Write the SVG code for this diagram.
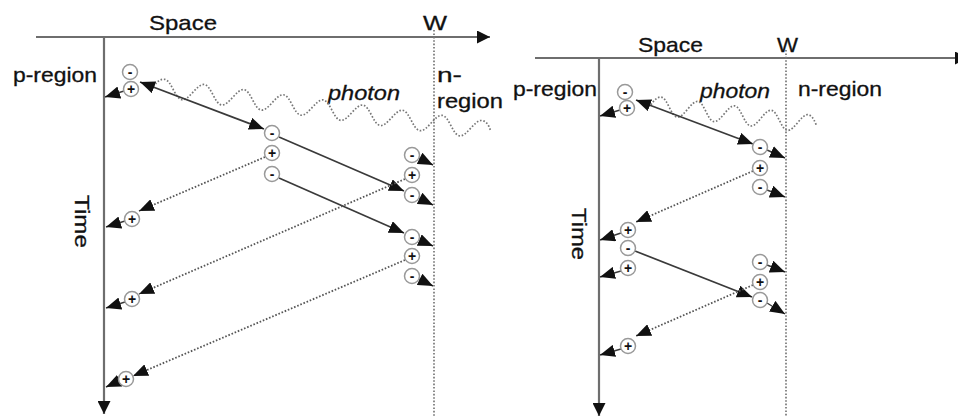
<svg xmlns="http://www.w3.org/2000/svg" width="958" height="417" viewBox="0 0 958 417">
<style>
.lbl{font-family:"Liberation Sans",Arial,sans-serif;font-size:21px;fill:#111;stroke:#111;stroke-width:0.3}
.it{font-style:italic}
.sg{font-family:"Liberation Sans",Arial,sans-serif;font-size:14px;font-weight:bold;fill:#111;text-anchor:middle}
.pc{fill:#fff;stroke:#999;stroke-width:1.5}
.axis{stroke:#6e6e6e;stroke-width:2.2;fill:none}
.wline{stroke:#777;stroke-width:1.7;stroke-dasharray:1.6,1.8;fill:none}
.sol{stroke:#3a3a3a;stroke-width:1.7;fill:none;marker-end:url(#ah)}
.dot{stroke:#555;stroke-width:1.8;stroke-dasharray:1.6,1.8;fill:none;marker-end:url(#ah)}
.sh{stroke:#3a3a3a;stroke-width:1.4;fill:none;marker-end:url(#ah)}
.wave{stroke:#777;stroke-width:1.7;stroke-dasharray:1.6,1.8;fill:none}
</style>
<defs>
<marker id="ah" viewBox="0 0 12 10" refX="12" refY="5" markerWidth="15" markerHeight="12.5" markerUnits="userSpaceOnUse" orient="auto-start-reverse"><path d="M0,0 L12,5 L0,10 z" fill="#111"/></marker>
<marker id="axh" viewBox="0 0 10 10" refX="10" refY="5" markerWidth="13" markerHeight="13" markerUnits="userSpaceOnUse" orient="auto"><path d="M0,0 L10,5 L0,10 z" fill="#111"/></marker>
</defs>

<g id="axes">
<line class="axis" x1="36" y1="37" x2="490" y2="37" marker-end="url(#axh)"/>
<line class="axis" x1="104" y1="37" x2="104" y2="414" marker-end="url(#axh)"/>
<line class="wline" x1="434" y1="30" x2="434" y2="417"/>
<line class="axis" x1="535" y1="58" x2="968" y2="58" marker-end="url(#axh)"/>
<line class="axis" x1="599" y1="58" x2="599" y2="416" marker-end="url(#axh)"/>
<line class="wline" x1="786" y1="50" x2="786" y2="417"/>
</g>

<g id="labels">
<g id="l-space"><text class="lbl" x="149" y="30" textLength="68" lengthAdjust="spacingAndGlyphs">Space</text></g>
<g id="l-w"><text class="lbl" x="423" y="30" textLength="24" lengthAdjust="spacingAndGlyphs">W</text></g>
<g id="l-preg"><text class="lbl" x="13" y="82" textLength="84" lengthAdjust="spacingAndGlyphs">p-region</text></g>
<g id="l-nreg"><text class="lbl" x="437" y="82" textLength="25" lengthAdjust="spacingAndGlyphs">n-</text><text class="lbl" x="437" y="108" textLength="66" lengthAdjust="spacingAndGlyphs">region</text></g>
<g id="l-photon"><text class="lbl it" x="328" y="100" textLength="72" lengthAdjust="spacingAndGlyphs">photon</text></g>
<g id="l-time"><text class="lbl" transform="translate(75,195) rotate(90)" textLength="53" lengthAdjust="spacingAndGlyphs">Time</text></g>
<g id="r-space"><text class="lbl" x="638" y="52" textLength="65" lengthAdjust="spacingAndGlyphs">Space</text></g>
<g id="r-w"><text class="lbl" x="777" y="52" textLength="21" lengthAdjust="spacingAndGlyphs">W</text></g>
<g id="r-preg"><text class="lbl" x="513" y="96" textLength="84" lengthAdjust="spacingAndGlyphs">p-region</text></g>
<g id="r-nreg"><text class="lbl" x="798" y="96" textLength="84" lengthAdjust="spacingAndGlyphs">n-region</text></g>
<g id="r-photon"><text class="lbl it" x="700" y="98" textLength="70" lengthAdjust="spacingAndGlyphs">photon</text></g>
<g id="r-time"><text class="lbl" transform="translate(572,208) rotate(90)" textLength="52" lengthAdjust="spacingAndGlyphs">Time</text></g>
</g>

<g id="connectors">
<path class="wave" transform="translate(203,93.4) rotate(7.4)" d="M -50,0 Q -46,-9 -40,-9 C -32.73,-9 -27.27,9 -20,9 S -7.27,-9 0,-9 S 12.73,9 20,9 S 32.73,-9 40,-9 S 52.73,9 60,9 S 72.73,-9 80,-9 S 92.73,9 100,9 S 112.73,-9 120,-9 S 132.73,9 140,9 S 152.73,-9 160,-9 S 172.73,9 180,9 S 192.73,-9 200,-9 S 212.73,9 220,9 S 232.73,-9 240,-9 S 252.73,9 260,9 S 272.73,-9 280,-9 Q 286,-9 290,0"/>
<path class="wave" transform="translate(660,106) rotate(6.84)" d="M -9.25,0 Q -4.5,-9 0,-9 C 6.72,-9 11.78,9 18.5,9 S 30.28,-9 37,-9 S 48.78,9 55.5,9 S 67.28,-9 74,-9 S 85.78,9 92.5,9 S 104.28,-9 111,-9 S 122.78,9 129.5,9 S 141.28,-9 148,-9 Q 152.5,-9 157.25,0"/>

<line class="sol" x1="140" y1="82" x2="264" y2="129" marker-start="url(#ah)"/>
<line class="sol" x1="279" y1="137" x2="404" y2="191"/>
<line class="sol" x1="279" y1="178" x2="404" y2="233"/>
<line class="dot" x1="265" y1="157" x2="139" y2="211"/>
<line class="dot" x1="405" y1="179" x2="139" y2="294"/>
<line class="dot" x1="405" y1="260" x2="133" y2="376"/>
<line class="sh" x1="124" y1="91" x2="105" y2="97"/>
<line class="sh" x1="125" y1="221" x2="106" y2="227"/>
<line class="sh" x1="125" y1="302" x2="106" y2="308"/>
<line class="sh" x1="119" y1="381" x2="106" y2="387"/>
<line class="sh" x1="419" y1="158" x2="433" y2="165"/>
<line class="sh" x1="419" y1="198" x2="433" y2="205"/>
<line class="sh" x1="419" y1="240" x2="433" y2="246"/>
<line class="sh" x1="419" y1="279" x2="433" y2="286"/>

<line class="sol" x1="636" y1="100" x2="753" y2="144" marker-start="url(#ah)"/>
<line class="dot" x1="753" y1="171" x2="636" y2="222"/>
<line class="sol" x1="635" y1="251" x2="752" y2="297"/>
<line class="dot" x1="753" y1="285" x2="636" y2="336"/>
<line class="sh" x1="620" y1="110" x2="600" y2="116"/>
<line class="sh" x1="621" y1="233" x2="600" y2="240"/>
<line class="sh" x1="621" y1="271" x2="600" y2="277"/>
<line class="sh" x1="621" y1="349" x2="600" y2="355"/>
<line class="sh" x1="767" y1="150" x2="785" y2="158"/>
<line class="sh" x1="767" y1="190" x2="785" y2="197"/>
<line class="sh" x1="767" y1="265" x2="785" y2="272"/>
<line class="sh" x1="767" y1="303" x2="785" y2="314"/>
</g>

<g id="particles">
<g id="a1"><circle class="pc" cx="130" cy="72" r="7.5"/><text class="sg" x="130" y="76.5">-</text></g>
<g id="a2"><circle class="pc" cx="131" cy="89" r="7.5"/><text class="sg" x="131" y="94">+</text></g>
<g id="a3"><circle class="pc" cx="272" cy="133" r="7.5"/><text class="sg" x="272" y="137.5">-</text></g>
<g id="a4"><circle class="pc" cx="272" cy="153" r="7.5"/><text class="sg" x="272" y="158">+</text></g>
<g id="a5"><circle class="pc" cx="272" cy="174" r="7.5"/><text class="sg" x="272" y="178.5">-</text></g>
<g id="a6"><circle class="pc" cx="412" cy="155" r="7.5"/><text class="sg" x="412" y="159.5">-</text></g>
<g id="a7"><circle class="pc" cx="412" cy="175" r="7.5"/><text class="sg" x="412" y="180">+</text></g>
<g id="a8"><circle class="pc" cx="412" cy="195" r="7.5"/><text class="sg" x="412" y="199.5">-</text></g>
<g id="a9"><circle class="pc" cx="412" cy="237" r="7.5"/><text class="sg" x="412" y="241.5">-</text></g>
<g id="a10"><circle class="pc" cx="412" cy="256" r="7.5"/><text class="sg" x="412" y="261">+</text></g>
<g id="a11"><circle class="pc" cx="412" cy="276" r="7.5"/><text class="sg" x="412" y="280.5">-</text></g>
<g id="a12"><circle class="pc" cx="132" cy="219" r="7.5"/><text class="sg" x="132" y="224">+</text></g>
<g id="a13"><circle class="pc" cx="132" cy="299" r="7.5"/><text class="sg" x="132" y="304">+</text></g>
<g id="a14"><circle class="pc" cx="126" cy="379" r="7.5"/><text class="sg" x="126" y="384">+</text></g>

<g id="b1"><circle class="pc" cx="625" cy="92" r="7.5"/><text class="sg" x="625" y="96.5">-</text></g>
<g id="b2"><circle class="pc" cx="627" cy="108" r="7.5"/><text class="sg" x="627" y="113">+</text></g>
<g id="b3"><circle class="pc" cx="760" cy="147" r="7.5"/><text class="sg" x="760" y="151.5">-</text></g>
<g id="b4"><circle class="pc" cx="760" cy="168" r="7.5"/><text class="sg" x="760" y="173">+</text></g>
<g id="b5"><circle class="pc" cx="760" cy="187" r="7.5"/><text class="sg" x="760" y="191.5">-</text></g>
<g id="b6"><circle class="pc" cx="628" cy="230" r="7.5"/><text class="sg" x="628" y="235">+</text></g>
<g id="b7"><circle class="pc" cx="628" cy="248" r="7.5"/><text class="sg" x="628" y="252.5">-</text></g>
<g id="b8"><circle class="pc" cx="628" cy="268" r="7.5"/><text class="sg" x="628" y="273">+</text></g>
<g id="b9"><circle class="pc" cx="760" cy="262" r="7.5"/><text class="sg" x="760" y="266.5">-</text></g>
<g id="b10"><circle class="pc" cx="760" cy="282" r="7.5"/><text class="sg" x="760" y="287">+</text></g>
<g id="b11"><circle class="pc" cx="760" cy="300" r="7.5"/><text class="sg" x="760" y="304.5">-</text></g>
<g id="b12"><circle class="pc" cx="628" cy="346" r="7.5"/><text class="sg" x="628" y="351">+</text></g>
</g>
</svg>
